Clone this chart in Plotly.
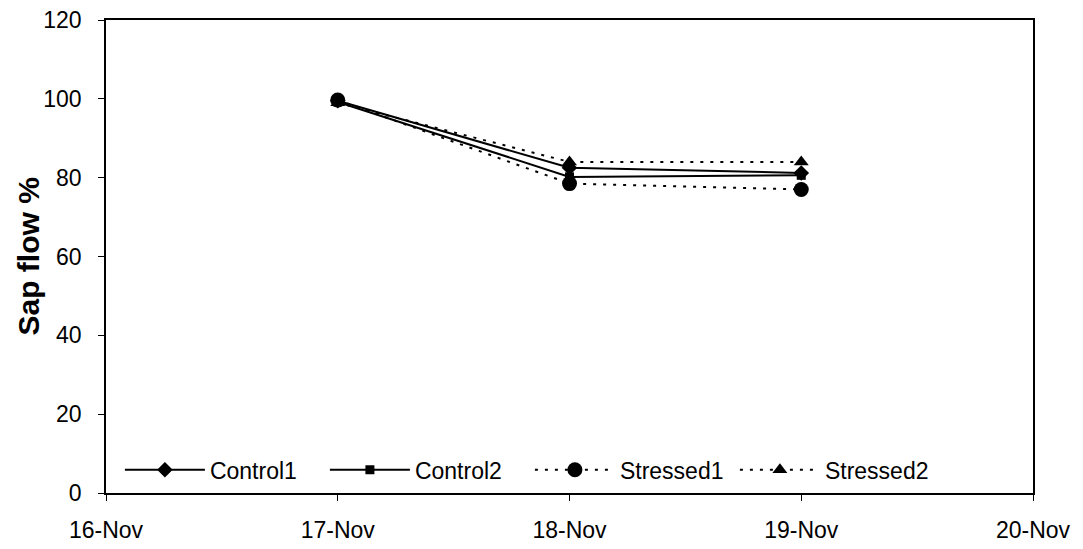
import plotly.graph_objects as go

dates = ["2000-11-17", "2000-11-18", "2000-11-19"]
control1 = [99.5, 82.5, 81.2]
control2 = [99.2, 80.2, 80.6]
stressed1 = [99.7, 78.5, 77.0]
stressed2 = [99.0, 84.0, 84.0]
x_ticks = ["2000-11-16", "2000-11-17", "2000-11-18", "2000-11-19", "2000-11-20"]
x_labels = ["16-Nov", "17-Nov", "18-Nov", "19-Nov", "20-Nov"]
y_ticks = [0, 20, 40, 60, 80, 100, 120]

series = [
    ("Control1", control1, "solid", "diamond", 12),
    ("Control2", control2, "solid", "square", 9),
    ("Stressed1", stressed1, "3px,7px", "circle", 15),
    ("Stressed2", stressed2, "3px,7px", "triangle-up", 13),
]

fig = go.Figure()
for name, vals, dash, sym, size in series:
    fig.add_trace(go.Scatter(
        x=dates, y=vals, name=name, mode="lines+markers",
        line=dict(color="black", width=2, dash=dash),
        marker=dict(symbol=sym, size=size, color="black"),
    ))

fig.add_annotation(
    text="<b>Sap flow %</b>", textangle=-90, font=dict(size=30),
    xref="paper", yref="paper", x=-0.0841, y=0.5,
    xanchor="center", yanchor="middle", showarrow=False,
)

fig.update_layout(
    width=1083, height=549,
    margin=dict(l=106, r=50, t=20, b=56),
    plot_bgcolor="white", paper_bgcolor="white",
    font=dict(family="Liberation Sans, Arial, sans-serif", size=23, color="black"),
    showlegend=True,
    legend=dict(orientation="h", x=0.015, y=0.049, xanchor="left", yanchor="middle",
                bgcolor="white", font=dict(size=23), itemwidth=80,
                entrywidth=110, entrywidthmode="pixels",
                traceorder="normal"),
    xaxis=dict(type="date", range=["2000-11-16", "2000-11-20"],
               tickvals=x_ticks, ticktext=x_labels, automargin=False,
               showgrid=False, showline=True, linecolor="black", linewidth=1.5,
               mirror=True, ticks="outside", ticklen=6, tickcolor="black",
               ticklabelstandoff=10),
    yaxis=dict(range=[0, 120], tickvals=y_ticks, showgrid=False, zeroline=False,
               automargin=False,
               showline=True, linecolor="black", linewidth=1.5, mirror=True,
               ticks="outside", ticklen=6, tickcolor="black",
               ticklabelstandoff=12),
)

fig.write_html("out.html")
